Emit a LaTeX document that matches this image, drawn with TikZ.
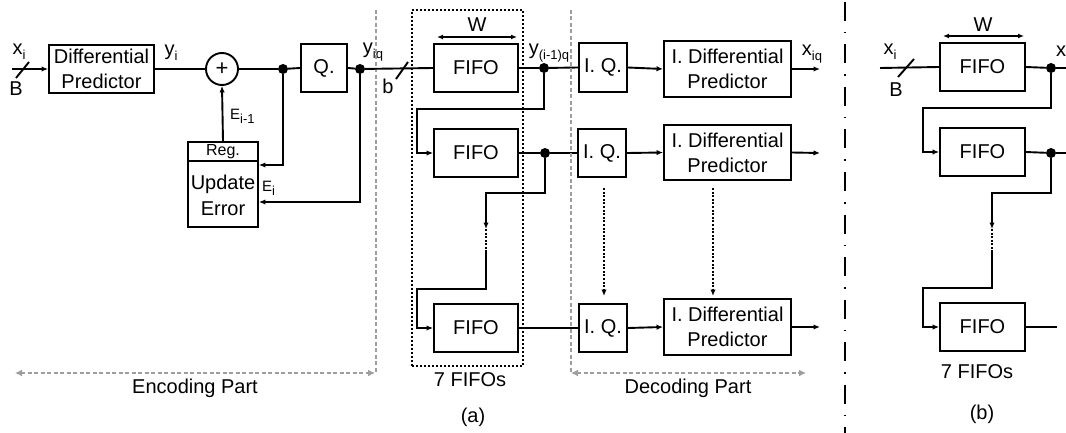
\documentclass[tikz,border=0pt]{standalone}
\usepackage{fontspec}
\setmainfont{Liberation Sans}
\usetikzlibrary{arrows.meta,calc}
\newcommand\sbs[1]{\raisebox{-0.5ex}{\fontsize{13}{13}\selectfont #1}}
\begin{document}
\begin{tikzpicture}[x=1pt,y=-1pt,
  blk/.style={draw,line width=1.9pt,inner sep=0pt,font=\fontsize{20}{25}\selectfont,align=center},
  wire/.style={line width=1.9pt},
  arr/.style={wire,-{Latex[length=6.5pt,width=5.5pt]}},
  dotwire/.style={line width=1.8pt,dash pattern=on 2pt off 1.6pt},
  darr/.style={dotwire,-{Latex[length=6.5pt,width=5.5pt]}},
  jn/.style={circle,fill,inner sep=0pt,minimum size=10pt},
  lbl/.style={font=\fontsize{20}{22}\selectfont,inner sep=0pt},
  elbl/.style={font=\fontsize{15}{17}\selectfont,inner sep=0pt},
  part/.style={draw=black!38,line width=2.6pt,dash pattern=on 4pt off 2.5pt},
  partarr/.style={part,{Latex[length=7pt,width=7pt]}-{Latex[length=7pt,width=7pt]}},
  grpbox/.style={draw,line width=1.8pt,dash pattern=on 2pt off 2pt,inner sep=0pt},
  sep/.style={line width=2.4pt,dash pattern=on 19pt off 11pt on 1.5pt off 11pt}
]
\useasboundingbox (0,0) rectangle (1066,433);

% ---------------- Encoding part ----------------
\node[blk,minimum width=105pt,minimum height=48pt] (dp) at (101.5,69) {Differential\\Predictor};
\node[blk,circle,minimum size=32pt,font=\fontsize{22}{22}\selectfont] (add) at (222,69) {+};
\node[blk,minimum width=46pt,minimum height=48pt] (q) at (324,68) {Q.};
\node[draw,line width=1.9pt,inner sep=0pt,minimum width=70pt,minimum height=85pt] (reg) at (223,184.5) {};
\draw[line width=1.9pt] ($(reg.north west)+(0,20)$) -- ($(reg.north east)+(0,20)$);
\node[font=\fontsize{16}{18}\selectfont,inner sep=0pt] (regt) at (223,152) {Reg.};
\node[font=\fontsize{20}{26}\selectfont,align=center,inner sep=0pt] (updt) at (223,195) {Update\\Error};

\node[jn] (d1) at (283,69) {};
\node[jn] (d2) at (360,69) {};
\coordinate (in) at (12,69);
\coordinate (h1) at (0,165);
\coordinate (h2) at (0,202);

\draw[arr] (in) -- (dp.west);
\coordinate (s1a) at (16,78); \coordinate (s1b) at (29,62);
\draw[wire] (s1a) -- (s1b);
\node[lbl] (xi) at (19,52) {x\sbs{i}};
\node[lbl] (B1) at (16,89) {B};
\draw[wire] (dp.east) -- (add.west);
\node[lbl] (yi) at (171,53) {y\sbs{i}};
\draw[wire] (add.east) -- (d1) -- (q.west);
\draw[wire] (q.east) -- (d2);
\draw[arr] (d1) |- (reg.east |- h1);
\draw[arr] (d2) |- (reg.east |- h2);
\draw[arr] (reg.north) -- (add.south);
\node[elbl,anchor=west] (eim) at (230,116) {E\sbs{i-1}};
\node[elbl,anchor=west] (ei) at (262,188) {E\sbs{i}};
\node[lbl] (yiq) at (373,52) {y\sbs{iq}};

\draw[part] (376,10) -- (376,373);
\draw[partarr] (15,373) -- (375,373);
\node[lbl] (enc) at (195,388) {Encoding Part};

% ---------------- FIFOs ----------------
\node[grpbox,minimum width=111pt,minimum height=356pt] (grp) at (467.5,188) {};
\node[blk,minimum width=84pt,minimum height=48pt] (f1) at (476,68) {FIFO};
\node[blk,minimum width=84pt,minimum height=48pt] (f2) at (476,153) {FIFO};
\node[blk,minimum width=84pt,minimum height=48pt] (f3) at (476,328) {FIFO};
\draw[wire,line width=1.6pt,{Latex[length=6pt,width=5pt]}-{Latex[length=6pt,width=5pt]}] (437,37) -- (517,37);
\node[lbl] (w1) at (477,25) {W};
\draw[wire] (d2) -- (f1.west);
\draw[wire] (396,79) -- (408,62);
\node[lbl] (b1) at (388,86) {b};

\node[jn] (d3) at (544,68) {};
\node[jn] (d4) at (545,153) {};
\node[lbl] (yi1q) at (549,53) {y\sbs{(i-1)q}};

\coordinate (c1) at (417,109);
\coordinate (c2) at (486,193);
\coordinate (c3) at (486,229);
\coordinate (c4) at (486,250);
\coordinate (c5) at (417,289);
\draw[wire] (f1.east) -- (d3);
\draw[arr] (d3) |- (c1) |- (f2.west);
\draw[wire] (f2.east) -- (d4);
\draw[arr] (d4) |- (c2) -- (c3);
\draw[dotwire,line width=1.3pt] (c3) -- (c4);
\draw[arr] (c4) |- (c5) |- (f3.west);
\node[lbl] (sev) at (470,380) {7 FIFOs};
\node[lbl] (pa) at (473,417) {(a)};

% ---------------- Decoding part ----------------
\node[blk,minimum width=48pt,minimum height=49pt] (iq1) at (603,67.5) {I. Q.};
\node[blk,minimum width=48pt,minimum height=48pt] (iq2) at (602,153) {I. Q.};
\node[blk,minimum width=48pt,minimum height=48pt] (iq3) at (603,328) {I. Q.};
\node[blk,minimum width=127pt,minimum height=56pt] (idp1) at (727.5,69) {I. Differential\\Predictor};
\node[blk,minimum width=127pt,minimum height=55pt] (idp2) at (727.5,152.5) {I. Differential\\Predictor};
\node[blk,minimum width=127pt,minimum height=56pt] (idp3) at (727.5,327) {I. Differential\\Predictor};

\draw[wire] (d3) -- (iq1.west);
\draw[wire] (d4) -- (iq2.west);
\draw[wire] (f3.east) -- (iq3.west);
\draw[arr] (iq1.east) -- (idp1.west);
\draw[arr] (iq2.east) -- (idp2.west);
\draw[arr] (iq3.east) -- (idp3.west);
\coordinate (o1) at (820,69);
\coordinate (o2) at (820,153);
\coordinate (o3) at (820,327);
\draw[arr] (idp1.east) -- (o1);
\draw[arr] (idp2.east) -- (o2);
\draw[arr] (idp3.east) -- (o3);
\node[lbl] (xiq) at (812,54) {x\sbs{iq}};

\coordinate (v1a) at (604,188); \coordinate (v1b) at (604,296);
\coordinate (v2a) at (713,188); \coordinate (v2b) at (713,296);
\draw[darr] (v1a) -- (v1b);
\draw[darr] (v2a) -- (v2b);

\draw[part] (571,10) -- (571,373);
\draw[partarr] (571,373) -- (806,373);
\node[lbl] (dec) at (688,388) {Decoding Part};

% ---------------- separator ----------------
\draw[sep] (845,2) -- (845,433);

% ---------------- (b) ----------------
\node[blk,minimum width=85pt,minimum height=48pt] (g1) at (982.5,67) {FIFO};
\node[blk,minimum width=85pt,minimum height=48pt] (g2) at (982.5,152) {FIFO};
\node[blk,minimum width=85pt,minimum height=48pt] (g3) at (982.5,327) {FIFO};
\draw[wire,line width=1.6pt,{Latex[length=6pt,width=5pt]}-{Latex[length=6pt,width=5pt]}] (943,36) -- (1024,36);
\node[lbl] (w2) at (983,25) {W};
\coordinate (inb) at (880,68);
\draw[wire] (inb) -- (g1.west);
\draw[wire] (898,77) -- (914,59);
\node[lbl] (xib) at (890,52) {x\sbs{i}};
\node[lbl] (Bb) at (896,90) {B};
\node[jn] (e1) at (1051,68) {};
\node[jn] (e2) at (1051,153) {};
\coordinate (ob1) at (1066,68);
\coordinate (ob2) at (1066,153);
\coordinate (ob3) at (1057,327);
\draw[wire] (g1.east) -- (e1) -- (ob1);
\draw[wire] (g2.east) -- (e2) -- (ob2);
\draw[wire] (g3.east) -- (ob3);
\node[lbl,anchor=west] (xr) at (1056,51) {x};
\coordinate (k1) at (923,108);
\coordinate (k2) at (992,193);
\coordinate (k3) at (992,229);
\coordinate (k4) at (992,250);
\coordinate (k5) at (923,288);
\draw[arr] (e1) |- (k1) |- (g2.west);
\draw[arr] (e2) |- (k2) -- (k3);
\draw[dotwire,line width=1.3pt] (k3) -- (k4);
\draw[arr] (k4) |- (k5) |- (g3.west);
\node[lbl] (sevb) at (977,372) {7 FIFOs};
\node[lbl] (pb) at (982,414) {(b)};
\end{tikzpicture}
\end{document}
